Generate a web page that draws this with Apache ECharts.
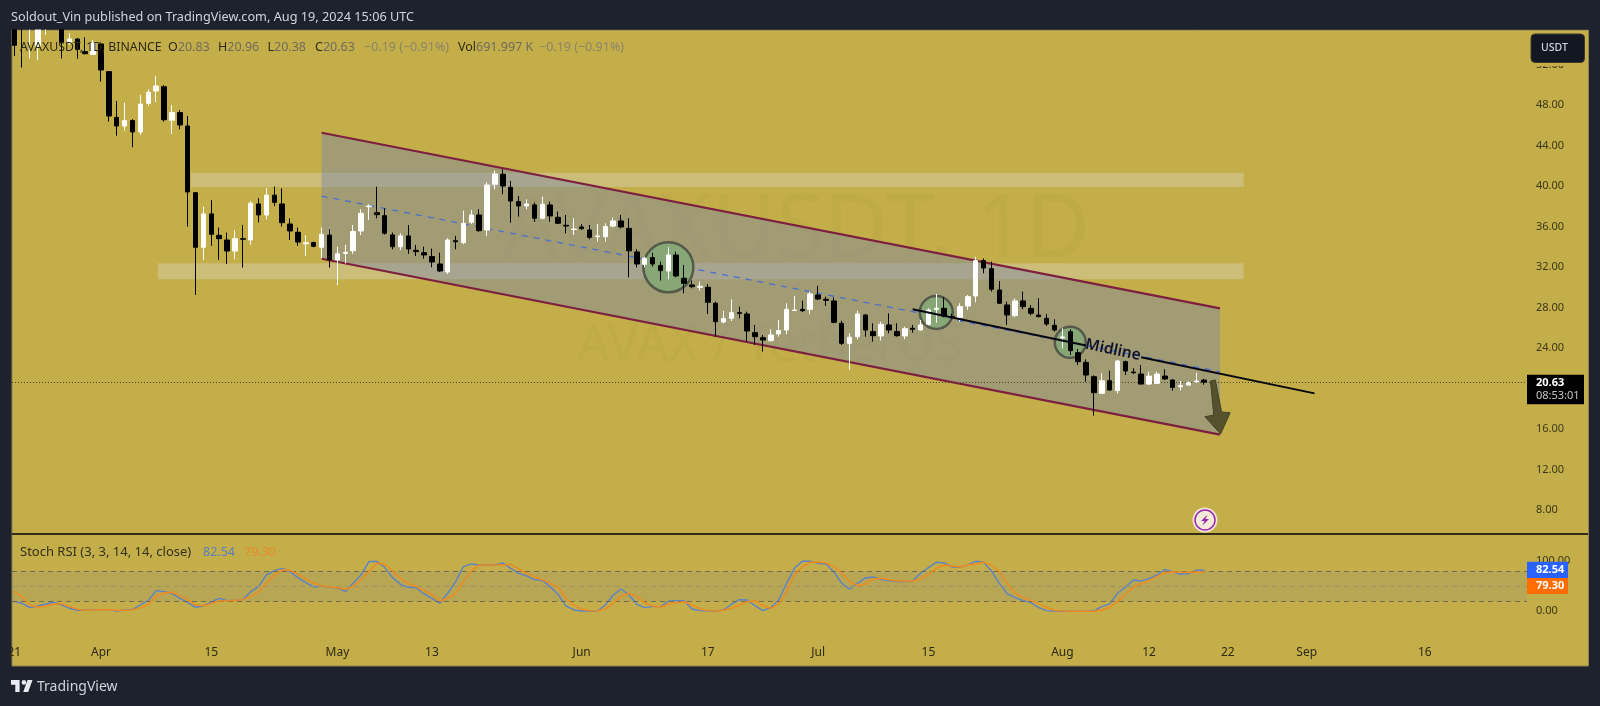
<!DOCTYPE html>
<html>
<head>
<meta charset="utf-8">
<title>AVAXUSDT 1D</title>
<script src="https://cdn.jsdelivr.net/npm/echarts@6/dist/echarts.min.js"></script>
<style>
  html, body { margin: 0; padding: 0; background: #1e222d; }
  #chart { width: 1600px; height: 706px; }
</style>
</head>
<body>
<div id="chart"></div>
<script>
// daily candles, first one is 2024-03-21
const firstDay = '2024-03-21'
const opens = [
  56.5,56.8,55.6,53.83,55.7,57,56.5,54.16,54.52,53.27,
  53,54.03,51.3,46.78,45.93,46.46,45.34,48.17,49.39,49.81,
  46.5,47.25,45.93,39.34,33.95,37.24,35.13,34.67,33.58,34.8,
  34.67,38.23,37.14,39.1,38.23,36.25,35.43,34.3,34.41,33.95,
  35.15,32.7,33.35,33.6,35.56,37.96,37.37,37.07,35.17,34.01,
  35.07,33.65,33.42,33.03,32.3,31.51,34.6,34.41,36.42,37.14,
  35.66,40.17,41.16,39.87,38.46,38.03,38.13,36.81,38.13,36.91,
  36.12,35.7,35.96,35.66,35,35,36.05,36.55,35.82,33.49,
  32.27,32.93,32.14,31.61,33.19,30.89,30.23,30,30,28.42,
  26.57,26.93,27.49,27.36,25.52,25.02,24.73,25.39,25.78,27.7,
  27.82,27.82,29.24,28.81,28.65,26.44,24.46,25.12,27.26,25.62,
  25.19,26.28,25.62,25.19,25.95,25.78,26.34,27.82,27.92,27.1,
  27.03,28.15,29.14,32.63,31.84,29.73,28.25,27.2,28.65,27.92,
  27.26,26.93,26.24,25,25.61,23.54,22.58,21.17,19.52,20.77,
  19.79,22.65,21.63,21.43,20.44,20.51,21.23,20.84,20.18,20.34,
  20.64,20.83
]
const closes = [
  53.9,55.6,57,56.5,56.2,58,54.16,54.52,53.5,53.07,
  54.09,51.46,46.92,45.93,46.46,45.34,48.1,49.25,49.88,46.55,
  47.25,46.03,39.41,33.95,37.24,35.23,34.8,33.58,34.8,34.75,
  38.3,37.14,39.1,38.39,36.38,35.56,34.47,34.4,34.05,35.23,
  32.7,33.3,33.45,35.5,37.3,38.03,37.17,35.33,34.01,35.07,
  33.78,33.52,33.19,32.5,31.61,34.67,34.5,36.32,37.14,35.59,
  40.1,41.19,40,38.52,38.03,38.23,36.81,38.2,37.04,36.32,
  36.05,35.75,35.79,34.93,35.07,36,36.55,35.96,33.6,32.3,
  32.86,32.3,31.64,33.19,31.12,30.39,30.06,30.1,28.51,26.6,
  26.9,27.49,27.42,25.68,25.12,24.79,25.29,25.72,27.82,27.75,
  27.69,29.34,28.84,28.71,26.54,24.46,25.06,27.36,25.78,25.22,
  26.34,25.78,25.22,25.91,25.85,26.28,27.76,27.92,27.16,27.03,
  28.09,29.07,32.63,31.9,29.8,28.42,27.26,28.65,28.09,27.43,
  27.1,26.37,25.78,25.1,23.74,22.65,21.33,19.59,20.77,19.85,
  22.72,21.73,21.56,20.44,21.23,21.43,20.94,20.11,20.28,20.57,
  20.74,20.63
]
const lows = [
  52.85,51.7,52.6,52.45,54.95,56,52.6,53.96,52.58,53,
  52.94,50.31,46.36,44.97,45.47,43.82,45.04,47.9,48.3,46.36,
  45.14,45.6,36,29.24,32.7,34.1,32.7,32.3,32.76,31.94,
  34.2,36.4,36.7,38,36,34.67,34.08,33.1,33.95,32.86,
  31.94,30.2,32.35,33.3,35.15,36.65,36.81,35.2,33.75,33.68,
  33.29,33.09,32.83,31.97,31.51,31.31,33.75,34.24,36.25,35.5,
  35.07,39.68,39.2,36.38,36.98,37.7,36.45,36.71,36.48,36.25,
  35.33,35.17,35.66,34.74,34.5,34.5,35.92,35.82,30.98,31.97,
  31.97,32.04,30.66,30.79,30.98,29.4,29.9,29.67,27.36,25.12,
  26.44,26.67,26.93,24.63,24.3,23.64,24.63,25.12,25.35,27.66,
  27.56,27.36,28.74,28.15,26.44,24.3,21.83,24.86,25.12,24.63,
  24.73,25.45,25.12,24.86,25.52,25.72,26.24,26.5,27.03,26.9,
  26.6,27.76,28.51,31.38,29.57,28.35,26.28,27.03,27.82,27.23,
  27.03,26.18,25.62,23.97,23.31,22.32,20.67,17.32,19.46,19.79,
  19.52,21.33,21.43,20.41,20.34,20.44,20.84,19.79,19.79,20.3,
  20.6,20.38
]
const highs = [
  57.5,58,58,57,57,58.5,57,55.08,54.6,54.69,
  54.42,54.16,51.35,48.4,48.23,46.6,48.99,49.55,50.87,49.98,
  48,47.5,46.92,39.4,37.96,38.6,35.9,35.4,35.66,36.15,
  38.5,38.8,39.77,39.94,39.77,36.8,35.9,35.15,34.5,35.9,
  35.7,34,34.2,36.15,37.7,38.2,39.94,37.8,35.4,35.33,
  36.15,34.18,34.01,33.82,33.42,34.84,35.07,37.57,37.63,37.7,
  40.37,41.52,41.65,40.5,39.02,38.69,38.36,38.95,38.46,37.47,
  37.14,36.81,36.25,36.15,36.25,36.32,36.91,37.14,36.81,33.75,
  33.03,33.42,32.53,33.95,33.52,32.2,30.66,30.55,30.32,28.58,
  27.66,28.81,28.09,27.59,26.28,25.29,25.85,26.77,28.42,29.14,
  28.68,29.57,30.13,29.07,29,26.7,25.45,27.69,27.36,26.44,
  26.6,27.43,26.44,26.11,26.28,26.77,27.92,29.34,29,27.4,
  28.42,29.24,33.02,32.86,32.53,30.62,28.58,28.91,29.57,28.25,
  28.91,27.36,26.84,25.95,25.85,23.9,22.88,21.3,21.5,21.76,
  22.82,22.75,22,22.32,21.66,21.66,21.89,20.9,20.74,20.7,
  21.56,20.96
]
const stochK = [
  19.3,16,7.3,10.7,14.7,18,12.7,6,2,2,
  3.3,3.3,3.3,0.7,2.7,3.3,12.7,21.3,41.3,39.3,
  36,26,18,8,10.7,18.7,26,21.3,22,23.3,
  39.3,49.3,72.7,81.3,86,79.3,67.3,57.3,48.7,50.7,
  48,46.7,39.3,56,72.7,99.3,100,88,67.3,54,
  48,47,34.7,26,16,36,59.3,89.3,94.7,92.7,
  92.7,92.7,96.7,86,76,70.7,63.3,62,49.3,34,
  10.7,2.7,0.7,0.7,0.7,12.7,32.7,44.7,32.7,14,
  7.3,9.3,9.3,20,21.3,21.3,4.7,1.3,0.7,0.7,
  2.7,14,23.3,22.7,11.3,1.3,7.3,22.7,56,86,
  100,100,96,94.7,79.3,56,44,56,66.7,68.7,
  63.3,61.3,59.3,59.3,60.7,76,87.3,98,96.7,88.7,
  88,92.7,100,98,80.7,56,34.7,27.3,21.3,17.3,
  7.3,1.3,0.7,0,0,0,0,1,9.3,14.7,
  36,48,62.7,60.7,65.3,72.7,84,79.3,74,75.3,
  82,82.54
]
const stochD = [
  39.3,29.3,12.7,8,10.7,14,15.3,9.3,4,2,
  2.7,3.3,3.3,2,2,2.7,7.3,14,29.3,36.7,
  38,31.3,22.7,12.7,11.3,15.3,20.7,21.3,22,23.3,
  29.3,39.3,56,72.7,82.7,82,74,64.7,56,51.3,
  48.7,47.3,44,49.3,62.7,79.3,96,94.7,80.7,66,
  56,49.3,41.3,32.7,20.7,26,36,59.3,80.7,92.7,
  92.7,92.7,92.7,94,84.7,76,68.7,63.3,56,48,
  26,12.7,4,1.3,0.7,4.7,16,29.3,36,29.3,
  17.3,10.7,8.7,14,17.3,19.3,12.7,5.3,1.3,0.7,
  2,6,12.7,19.3,20.7,11.3,6,14,39.3,72.7,
  89.3,98,98.7,96.7,89.3,76,59.3,51.3,54.7,64.7,
  66,63.3,60.7,60.7,60.7,64.7,74,86,92.7,90.7,
  88.7,92.7,94.7,98,92.7,79.3,56,36,27.3,21.3,
  15.3,7.3,2,0.7,0,0,0,0,2,8,
  19.3,34,48,56,60.7,69.3,77.3,79.3,78,78,
  78,79.3
]

const priceTicks = [8,12,16,24,28,32,36,40,44,48,52]
const stochTicks = [0,100]
const stochLevels = [20,50,80]
const lastPrice = 20.63
const dateTicks = ['2024-03-21','2024-04-01','2024-04-15','2024-05-01','2024-05-13','2024-06-01','2024-06-17','2024-07-01','2024-07-15','2024-08-01','2024-08-12','2024-08-22','2024-09-01','2024-09-16']
const dateLabels = ['21','Apr','15','May','13','Jun','17','Jul','15','Aug','12','22','Sep','16']

// drawings, in date / price
const channelTop = [['2024-04-29',45.26],['2024-08-21',27.92]]
const channelBottom = [['2024-04-29',32.82],['2024-08-21',15.44]]
const channelMid = [['2024-04-29',39],['2024-08-21',21.66]]
const midlineLeft = [['2024-07-13',27.82],['2024-08-04',24.24]]
const midlineRight = [['2024-08-11',23.09],['2024-09-02',19.52]]
const zoneHigh = [['2024-04-12T10:00:00',41.31],['2024-08-24',39.9]]
const zoneLow = [['2024-04-08T05:00:00',32.36],['2024-08-24',30.78]]
const circles = [['2024-06-12',31.97,50],['2024-07-16',27.51,33],['2024-08-02',24.56,31]]
const arrowPoints = [
  ['2024-08-19T19:00:00',20.74],['2024-08-20T10:00:00',20.84],['2024-08-21T05:00:00',17.68],
  ['2024-08-22T07:00:00',17.61],['2024-08-21T02:00:00',15.51],['2024-08-19T02:00:00',17.21],
  ['2024-08-20T05:00:00',17.38]
]

const DAY = 86400000
const ms = s => Date.parse(s.length > 10 ? s + 'Z' : s + 'T00:00:00Z')
const tm = rows => rows.map(r => [ms(r[0]), r[1]])
const apr1 = ms('2024-04-01')
const xMin = apr1 - 11.29 * DAY
const xMax = apr1 + 180.96 * DAY

const days = opens.map((v, i) => ms(firstDay) + i * DAY)
const candles = opens.map((v, i) => [days[i], v, closes[i], lows[i], highs[i]])
const tickTimes = dateTicks.map(ms)

const GOLD = '#c4ae4a'
const FONT = '"Noto Sans", sans-serif'

// a filled polygon from date/price rows
function polygonSeries(rows, z, style) {
  const pts = tm(rows)
  return {
    type: 'custom', xAxisIndex: 0, yAxisIndex: 0, z: z, silent: true,
    data: [pts[0]],
    renderItem: (params, api) => ({
      type: 'polygon',
      shape: { points: pts.map(p => api.coord(p)) },
      style: style
    })
  }
}
function lineSeries(rows, z, color, width, type) {
  return {
    type: 'line', xAxisIndex: 0, yAxisIndex: 0, z: z, silent: true,
    data: tm(rows), symbol: 'none',
    lineStyle: { color: color, width: width, type: type || 'solid' }
  }
}
function box(rows) {
  return [rows[0], [rows[1][0], rows[0][1]], rows[1], [rows[0][0], rows[1][1]]]
}
function text(x, y, str, size, color, extra, z) {
  return {
    type: 'text', x: x, y: y, z: z === undefined ? 50 : z, silent: true,
    style: Object.assign({ text: str, fontSize: size, fill: color, fontFamily: FONT, verticalAlign: 'middle' }, extra || {})
  }
}

const LBL = '#2c2a12', VAL = '#6f6c5c', CHG = '#8b8568'
const richKV = { a: { fill: LBL, fontSize: 12.5, fontFamily: FONT }, b: { fill: VAL, fontSize: 12.5, fontFamily: FONT } }
const chart = echarts.init(document.getElementById('chart'))

chart.setOption({
  animation: false,
  backgroundColor: '#1e222d',
  grid: [
    { left: 12, top: 30, width: 1515, height: 504 },
    { left: 12, top: 535, width: 1515, height: 104 }
  ],
  xAxis: [
    { type: 'value', gridIndex: 0, min: xMin, max: xMax, axisLine: { show: false }, axisTick: { show: false }, axisLabel: { show: false }, splitLine: { show: false } },
    {
      type: 'value', gridIndex: 1, min: xMin, max: xMax,
      axisLine: { show: false }, axisTick: { show: false }, splitLine: { show: false },
      axisLabel: {
        customValues: tickTimes, hideOverlap: false, margin: 8, fontSize: 12, fontFamily: FONT, color: '#2c2a12',
        formatter: v => dateLabels[tickTimes.indexOf(+v)]
      }
    }
  ],
  yAxis: [
    {
      type: 'value', gridIndex: 0, position: 'right', min: 5.63, max: 55.41,
      axisLine: { show: false }, axisTick: { show: false }, splitLine: { show: false },
      axisLabel: { customValues: priceTicks, margin: 9, fontSize: 11, fontFamily: FONT, color: '#3b3818', formatter: v => v.toFixed(2) }
    },
    {
      type: 'value', gridIndex: 1, position: 'right', min: -55.4, max: 152.6,
      axisLine: { show: false }, axisTick: { show: false }, splitLine: { show: false },
      axisLabel: { customValues: stochTicks, margin: 9, fontSize: 11, fontFamily: FONT, color: '#3b3818', formatter: v => v.toFixed(2) }
    }
  ],
  series: [
    polygonSeries(box(zoneHigh), 2, { fill: 'rgba(218,217,201,0.36)' }),
    polygonSeries(box(zoneLow), 2, { fill: 'rgba(218,217,201,0.36)' }),
    polygonSeries([channelTop[0], channelTop[1], channelBottom[1], channelBottom[0]], 3, { fill: 'rgba(113,130,179,0.4)' }),
    lineSeries(channelTop, 4, '#7d1f3e', 2.2),
    lineSeries(channelBottom, 4, '#7d1f3e', 2.2),
    lineSeries(channelMid, 4, '#4a6fd0', 1.3, [6, 6]),
    {
      type: 'scatter', xAxisIndex: 0, yAxisIndex: 0, z: 5, silent: true,
      data: circles.map(c => [ms(c[0]), c[1], c[2]]),
      symbolSize: v => v[2],
      itemStyle: { color: '#88a777', borderColor: '#55594a', borderWidth: 2.5, opacity: 1 }
    },
    {
      type: 'candlestick', xAxisIndex: 0, yAxisIndex: 0, z: 6, clip: true, silent: true,
      encode: { x: 0, y: [1, 2, 3, 4] },
      data: candles,
      barWidth: 5,
      itemStyle: { color: '#ffffff', color0: '#000000', borderColor: '#ffffff', borderColor0: '#000000', borderWidth: 1 },
      markLine: {
        silent: true, symbol: 'none', label: { show: false },
        lineStyle: { color: '#4a4720', type: [1, 2], width: 1 },
        data: [{ yAxis: lastPrice }]
      }
    },
    lineSeries(midlineLeft, 7, '#05060f', 2),
    lineSeries(midlineRight, 7, '#05060f', 2),
    polygonSeries(arrowPoints, 8, { fill: '#55512c', stroke: '#45432a', lineWidth: 1 }),
    {
      type: 'line', xAxisIndex: 1, yAxisIndex: 1, z: 4, silent: true,
      data: days.map((d, i) => [d, stochK[i]]), symbol: 'none',
      lineStyle: { color: '#5b83c9', width: 1.4 },
      markArea: {
        silent: true, itemStyle: { color: 'rgba(120,123,134,0.16)' },
        data: [[{ yAxis: stochLevels[0] }, { yAxis: stochLevels[2] }]]
      },
      markLine: {
        silent: true, symbol: 'none', label: { show: false },
        data: [
          { yAxis: stochLevels[0], lineStyle: { color: '#6f6c55', type: [5, 4], width: 1 } },
          { yAxis: stochLevels[1], lineStyle: { color: '#9a9468', type: [5, 4], width: 1 } },
          { yAxis: stochLevels[2], lineStyle: { color: '#6f6c55', type: [5, 4], width: 1 } }
        ]
      }
    },
    {
      type: 'line', xAxisIndex: 1, yAxisIndex: 1, z: 5, silent: true,
      data: days.map((d, i) => [d, stochD[i]]), symbol: 'none',
      lineStyle: { color: '#f08a1e', width: 1.5 }
    }
  ],
  graphic: { elements: [
    { type: 'rect', z: -10, silent: true, shape: { x: 12, y: 30, width: 1576.5, height: 636 }, style: { fill: GOLD, stroke: '#8c8350', lineWidth: 1 } },
    text(796, 232, 'AVAXUSDT, 1D', 88, 'rgba(100,90,30,0.05)', { textAlign: 'center' }, -5),
    text(770, 346, 'AVAX / TetherUS', 51, 'rgba(100,90,30,0.05)', { textAlign: 'center' }, -5),

    // header strip hides the wicks that run past the top of the pane
    { type: 'rect', z: 30, silent: true, shape: { x: 0, y: 0, width: 1600, height: 29.5 }, style: { fill: '#1e222d' } },

    text(11, 17, 'Soldout_Vin published on TradingView.com, Aug 19, 2024 15:06 UTC', 12.7, '#d1d4dc'),
    text(20, 47.5, 'AVAXUSDT, 1D, BINANCE', 12.3, LBL),
    text(168, 47.5, '{a|O}{b|20.83}', 12.5, LBL, { rich: richKV }),
    text(218, 47.5, '{a|H}{b|20.96}', 12.5, LBL, { rich: richKV }),
    text(267.5, 47.5, '{a|L}{b|20.38}', 12.5, LBL, { rich: richKV }),
    text(315, 47.5, '{a|C}{b|20.63}', 12.5, LBL, { rich: richKV }),
    text(364, 47.5, '\u22120.19 (\u22120.91%)', 12.5, CHG),
    text(458, 47.5, '{a|Vol}{b|691.997\u00a0K}', 12.5, LBL, { rich: richKV }),
    text(539, 47.5, '\u22120.19 (\u22120.91%)', 12.5, CHG),

    Object.assign(text(1113, 350, 'Midline', 15.5, '#10132a', { fontWeight: 600, textAlign: 'center' }), { rotation: -0.206 }),

    { type: 'rect', z: 49, silent: true, shape: { x: 1531, y: 50, width: 53, height: 16 }, style: { fill: GOLD } },
    { type: 'rect', z: 50, silent: true, shape: { x: 1531, y: 34, width: 53.5, height: 28.5, r: 4 }, style: { fill: '#131722', stroke: '#3b3a2c', lineWidth: 1 } },
    text(1541, 48, 'USDT', 10.5, '#d1d4dc', { fontWeight: 500 }, 51),

    { type: 'rect', z: 50, silent: true, shape: { x: 1527, y: 374.7, width: 57, height: 29.5 }, style: { fill: '#000' } },
    text(1536, 383, '20.63', 11, '#fff', { fontWeight: 'bold' }, 51),
    text(1536, 396, '08:53:01', 11, '#c6c6c6', null, 51),

    { type: 'line', z: 40, silent: true, shape: { x1: 12, y1: 534, x2: 1588, y2: 534 }, style: { stroke: '#000', lineWidth: 1.5 } },

    { type: 'circle', z: 50, silent: true, shape: { cx: 1205, cy: 520, r: 12.5 }, style: { fill: '#f3e4d6' } },
    { type: 'circle', z: 51, silent: true, shape: { cx: 1205, cy: 520, r: 10 }, style: { fill: '#f5ecd8', stroke: '#9c27b0', lineWidth: 1.5 } },
    { type: 'polygon', z: 52, silent: true, shape: { points: [[1207.5, 514.5], [1201, 521], [1204.5, 521], [1202.5, 525.5], [1209, 519], [1205.5, 519]] }, style: { fill: '#9c27b0' } },

    text(20, 552.7, 'Stoch RSI (3, 3, 14, 14, close)', 13, '#33311a'),
    text(203, 552.7, '82.54', 12.5, '#5a7fc0'),
    text(244, 552.7, '79.30', 12.5, '#ec8a2c'),

    { type: 'rect', z: 50, silent: true, shape: { x: 1527, y: 561.7, width: 41, height: 16.3 }, style: { fill: '#2962ff' } },
    { type: 'rect', z: 50, silent: true, shape: { x: 1527, y: 578, width: 41, height: 16 }, style: { fill: '#ff6d00' } },
    text(1536, 570, '82.54', 11, '#fff', { fontWeight: 'bold' }, 51),
    text(1536, 586, '79.30', 11, '#fff', { fontWeight: 'bold' }, 51),

    // TradingView mark
    { type: 'polygon', z: 50, silent: true, shape: { points: [[19.6, 680], [11, 680], [11, 684.8], [15.3, 684.8], [15.3, 692], [19.6, 692]] }, style: { fill: '#e8eaf0' } },
    { type: 'polygon', z: 50, silent: true, shape: { points: [[28.2, 692], [23.2, 692], [27.5, 680], [32.5, 680]] }, style: { fill: '#e8eaf0' } },
    { type: 'circle', z: 50, silent: true, shape: { cx: 23.9, cy: 682.4, r: 2.3 }, style: { fill: '#e8eaf0' } },
    text(37, 687, 'TradingView', 14, '#d1d4dc')
  ] }
})
</script>
</body>
</html>
